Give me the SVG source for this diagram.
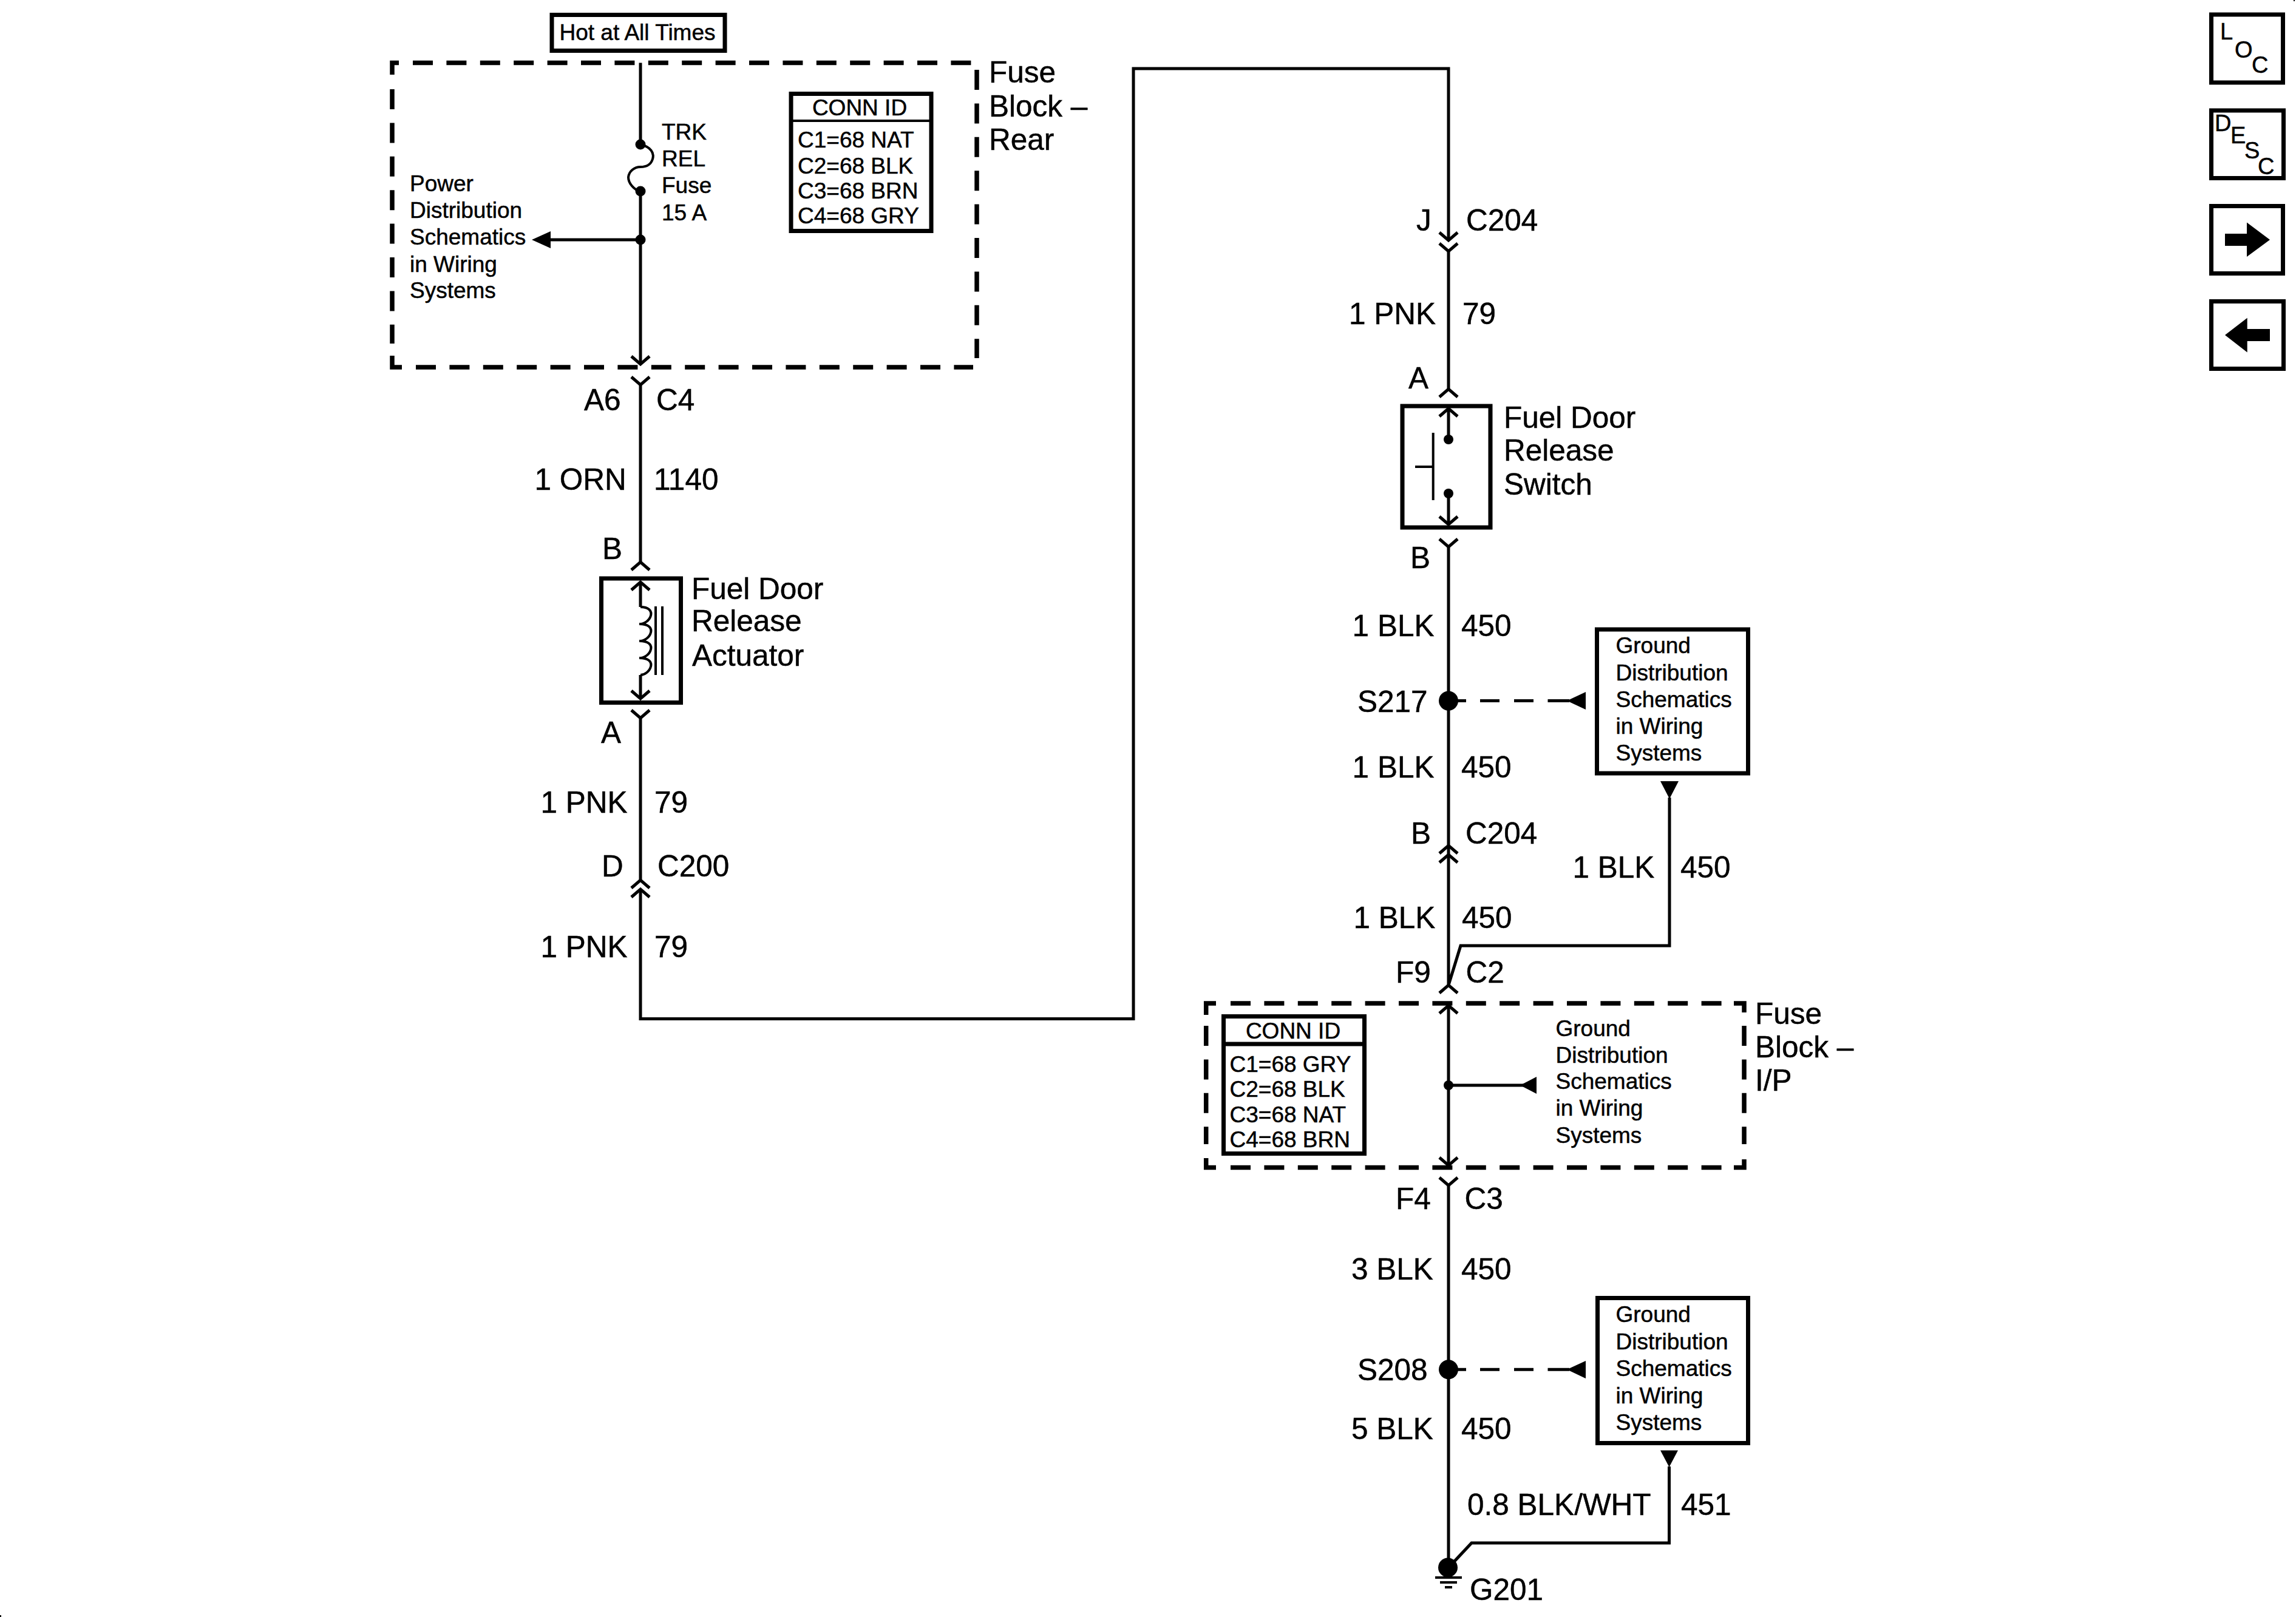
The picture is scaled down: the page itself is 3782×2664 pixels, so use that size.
<svg xmlns="http://www.w3.org/2000/svg" width="3782" height="2664" viewBox="0 0 3782 2664">
<style>
text{font-family:"Liberation Sans",Arial,Helvetica,sans-serif;fill:#000;stroke:#000;stroke-width:.5}
.l{font-size:49.500px}
.s{font-size:37px}
.m{text-anchor:middle}
.ic{font-size:38px}
.w{fill:none;stroke:#000;stroke-width:5}
.t{fill:none;stroke:#000;stroke-width:4}
.bx{fill:#fff;stroke:#000;stroke-width:7}
.d{fill:none;stroke:#000;stroke-width:7.5}
.dd{fill:none;stroke:#000;stroke-width:7.5;stroke-dasharray:33 22.4}
.f{fill:#000}
</style>
<defs>
<path id="up" class="w" d="M-15 13L0 0L15 13"/>
<path id="dn" class="w" d="M-15 -13L0 0L15 -13"/>
</defs>
<rect width="3782" height="2664" fill="#fff"/>
<rect class="f" x="3778" y="0" width="2" height="2"/>
<rect class="f" x="0" y="2661" width="2" height="3"/>

<g id="fuse-block-rear">
<path class="d" d="M646 123V103.500H657M646 586V605H662"/>
<path class="dd" d="M680 103.500H1600"/>
<path class="dd" d="M685 605H1603"/>
<path class="dd" d="M646 147V566"/>
<path class="dd" d="M1609 115V590"/>
<text class="l" x="1629" y="136">Fuse</text>
<text class="l" x="1629" y="192">Block –</text>
<text class="l" x="1629" y="247">Rear</text>
</g>
<g id="fuse-block-ip">
<path class="d" d="M1986.700 1672V1653H2003M1986.700 1908V1923.500H2003M2856 1653H2873V1668M2856 1923.500H2873V1910"/>
<path class="dd" d="M2027 1653H2850"/>
<path class="dd" d="M2027 1923.500H2850"/>
<path class="dd" d="M1986.700 1690V1885"/>
<path class="dd" d="M2873 1690V1885"/>
<text class="l" x="2891" y="1687">Fuse</text>
<text class="l" x="2891" y="1742">Block –</text>
<text class="l" x="2891" y="1797">I/P</text>
</g>

<g id="connectors">
<path class="w" d="M1055 103.500V238M1055 315V600M1055 633V926M1055 959V1000M1055 1112V1151M1055 1182V1450M1055 1465V1678.600H1867V113H2386V396M2386 413.500V641M2386 673V724M2386 813V864M2386 901V1407M2386 1408V1623L2406 1558H2750V1314M2386 1656.500V1920M2386 1953V2582"/>
<path class="w" d="M2395 2573L2424 2542H2749.500V2416"/>
<path class="w" d="M1055 395H900"/>
<path class="w" d="M2386 1788H2510"/>
<path class="w" d="M2401 1154.600H2415M2438 1154.600H2470M2494 1154.600H2526M2549.500 1154.600H2585"/>
<path class="w" d="M2401 2256.300H2415M2438 2256.300H2470M2494 2256.300H2526M2549.500 2256.300H2585"/>
<path class="f" d="M876 395L907 381V409Z"/>
<path class="f" d="M2504 1788L2531 1774V1802Z"/>
<path class="f" d="M2581 1154.600L2612 1140V1169Z"/>
<path class="f" d="M2581 2256.300L2612 2242V2271Z"/>
<path class="f" d="M2735 1287H2765L2750 1316Z"/>
<path class="f" d="M2735 2389.500H2764L2749.500 2417Z"/>
<use href="#dn" x="1055" y="600"/>
<use href="#dn" x="1055" y="634"/>
<use href="#up" x="1055" y="926"/>
<use href="#up" x="1055" y="959"/>
<use href="#dn" x="1055" y="1151"/>
<use href="#dn" x="1055" y="1183"/>
<use href="#up" x="1055" y="1450"/>
<use href="#up" x="1055" y="1465"/>
<use href="#dn" x="2386" y="396"/>
<use href="#dn" x="2386" y="414"/>
<use href="#up" x="2386" y="641"/>
<use href="#up" x="2386" y="673"/>
<use href="#dn" x="2386" y="864"/>
<use href="#dn" x="2386" y="901"/>
<use href="#up" x="2386" y="1393"/>
<use href="#up" x="2386" y="1408"/>
<use href="#up" x="2386" y="1623"/>
<use href="#up" x="2386" y="1656.500"/>
<use href="#dn" x="2386" y="1920"/>
<use href="#dn" x="2386" y="1953"/>
</g>

<g id="hot-at-all-times">
<rect class="bx" x="909" y="24.500" width="285" height="59"/>
<text class="s m" x="1050" y="66">Hot at All Times</text>
</g>
<g id="fuse-trk-rel">
<path class="t" d="M1055 238C1072 242 1078 252 1075 262C1072 272 1063 275 1055 275C1045 275 1036 282 1035 292C1035 302 1044 312 1055 316"/>
<circle class="f" cx="1055" cy="238" r="8.500"/>
<circle class="f" cx="1055" cy="315" r="8.500"/>
<circle class="f" cx="1055" cy="395" r="8.500"/>
<text class="s" x="1090" y="230">TRK</text>
<text class="s" x="1090" y="274">REL</text>
<text class="s" x="1090" y="318">Fuse</text>
<text class="s" x="1090" y="362.500">15 A</text>
</g>
<g id="power-distribution-ref">
<text class="s" x="675" y="315">Power</text>
<text class="s" x="675" y="359">Distribution</text>
<text class="s" x="675" y="403">Schematics</text>
<text class="s" x="675" y="448">in Wiring</text>
<text class="s" x="675" y="491">Systems</text>
</g>
<g id="conn-id-rear">
<rect class="bx" x="1303" y="154.500" width="231" height="226"/>
<path class="t" d="M1303 199H1534"/>
<text class="s m" x="1416" y="190">CONN ID</text>
<text class="s" x="1314" y="243">C1=68 NAT</text>
<text class="s" x="1314" y="286">C2=68 BLK</text>
<text class="s" x="1314" y="327">C3=68 BRN</text>
<text class="s" x="1314" y="368">C4=68 GRY</text>
</g>
<g id="fuel-door-release-actuator">
<rect x="990.500" y="953" width="131" height="204.500" fill="none" stroke="#000" stroke-width="7"/>
<path class="t" d="M1055 1000C1068 1000 1074 1006 1072 1014C1070 1022 1062 1028 1053 1028C1068 1028 1074 1034 1072 1042C1070 1050 1062 1056 1053 1056C1068 1056 1074 1062 1072 1070C1070 1078 1062 1084 1053 1084C1068 1084 1074 1090 1072 1098C1070 1106 1062 1112 1055 1112"/>
<path class="t" d="M1080 999V1112M1091 999V1112"/>
<text class="l" x="1139" y="987">Fuel Door</text>
<text class="l" x="1139" y="1040">Release</text>
<text class="l" x="1140" y="1097">Actuator</text>
</g>
<g id="fuel-door-release-switch">
<rect x="2310" y="669" width="145" height="200" fill="none" stroke="#000" stroke-width="7"/>
<circle class="f" cx="2386" cy="724" r="8"/>
<circle class="f" cx="2386" cy="813" r="8"/>
<path class="t" d="M2360.700 713V824M2331 769H2360"/>
<text class="l" x="2477" y="705">Fuel Door</text>
<text class="l" x="2477" y="759">Release</text>
<text class="l" x="2477" y="815">Switch</text>
</g>
<g id="ground-distribution-1">
<rect class="bx" x="2630.500" y="1037" width="249" height="237"/>
<text class="s" x="2661.500" y="1076">Ground</text>
<text class="s" x="2661.500" y="1121">Distribution</text>
<text class="s" x="2661.500" y="1165">Schematics</text>
<text class="s" x="2661.500" y="1209">in Wiring</text>
<text class="s" x="2661.500" y="1253">Systems</text>
</g>
<g id="ground-distribution-2">
<rect class="bx" x="2631.500" y="2138.500" width="248" height="239"/>
<text class="s" x="2661.500" y="2178">Ground</text>
<text class="s" x="2661.500" y="2223">Distribution</text>
<text class="s" x="2661.500" y="2267">Schematics</text>
<text class="s" x="2661.500" y="2311.500">in Wiring</text>
<text class="s" x="2661.500" y="2356">Systems</text>
</g>
<g id="ground-distribution-ip">
<circle class="f" cx="2386" cy="1788" r="8"/>
<text class="s" x="2562.500" y="1707">Ground</text>
<text class="s" x="2562.500" y="1751">Distribution</text>
<text class="s" x="2562.500" y="1794">Schematics</text>
<text class="s" x="2562.500" y="1838">in Wiring</text>
<text class="s" x="2562.500" y="1883">Systems</text>
</g>
<g id="conn-id-ip">
<rect class="bx" x="2015.500" y="1674.500" width="232" height="226"/>
<path class="bx" d="M2015.500 1720H2247.500"/>
<text class="s m" x="2130" y="1710.500">CONN ID</text>
<text class="s" x="2025.500" y="1765.500">C1=68 GRY</text>
<text class="s" x="2025.500" y="1807">C2=68 BLK</text>
<text class="s" x="2025.500" y="1849">C3=68 NAT</text>
<text class="s" x="2025.500" y="1889.500">C4=68 BRN</text>
</g>
<g id="s217">
<circle class="f" cx="2386" cy="1154.600" r="16"/>
<text class="l" x="2236" y="1172.500">S217</text>
</g>
<g id="s208">
<circle class="f" cx="2386" cy="2256.300" r="16"/>
<text class="l" x="2236" y="2274">S208</text>
</g>
<g id="g201">
<circle class="f" cx="2385" cy="2582.500" r="16"/>
<path class="t" d="M2364 2599H2408M2372 2607H2400M2380 2615H2392"/>
<text class="l" x="2421" y="2636">G201</text>
</g>
<g id="wire-labels">
<text class="l" x="962" y="676">A6</text>
<text class="l" x="1081" y="676">C4</text>
<text class="l" x="880.500" y="807">1 ORN</text>
<text class="l" x="1077" y="807">1140</text>
<text class="l" x="992" y="921">B</text>
<text class="l" x="990" y="1224">A</text>
<text class="l" x="890.500" y="1339">1 PNK</text>
<text class="l" x="1078" y="1339">79</text>
<text class="l" x="991" y="1443.500">D</text>
<text class="l" x="1083" y="1443.500">C200</text>
<text class="l" x="890.500" y="1577">1 PNK</text>
<text class="l" x="1078" y="1577">79</text>
<text class="l" x="2333" y="380">J</text>
<text class="l" x="2415" y="380">C204</text>
<text class="l" x="2222" y="534">1 PNK</text>
<text class="l" x="2409" y="534">79</text>
<text class="l" x="2320" y="640">A</text>
<text class="l" x="2323" y="936">B</text>
<text class="l" x="2227.600" y="1047.500">1 BLK</text>
<text class="l" x="2407" y="1047.500">450</text>
<text class="l" x="2227.600" y="1281">1 BLK</text>
<text class="l" x="2407" y="1281">450</text>
<text class="l" x="2324" y="1389.500">B</text>
<text class="l" x="2414" y="1389.500">C204</text>
<text class="l" x="2590.400" y="1446">1 BLK</text>
<text class="l" x="2768" y="1446">450</text>
<text class="l" x="2229.500" y="1528.700">1 BLK</text>
<text class="l" x="2408" y="1528.700">450</text>
<text class="l" x="2299" y="1619">F9</text>
<text class="l" x="2414.600" y="1619">C2</text>
<text class="l" x="2299" y="1992">F4</text>
<text class="l" x="2412.400" y="1992">C3</text>
<text class="l" x="2226" y="2107.700">3 BLK</text>
<text class="l" x="2407" y="2107.700">450</text>
<text class="l" x="2226" y="2371">5 BLK</text>
<text class="l" x="2407" y="2371">450</text>
<text class="l" x="2417" y="2496">0.8 BLK/WHT</text>
<text class="l" x="2769" y="2496">451</text>
</g>
<g id="btn-loc">
<rect class="bx" x="3642.500" y="24" width="118" height="112"/>
<text class="ic" x="3657" y="65">L</text>
<text class="ic" x="3681" y="95">O</text>
<text class="ic" x="3709" y="120">C</text>
</g>
<g id="btn-desc">
<rect class="bx" x="3642.500" y="182" width="119" height="111.500"/>
<text class="ic" x="3648" y="216">D</text>
<text class="ic" x="3674" y="236">E</text>
<text class="ic" x="3697" y="261">S</text>
<text class="ic" x="3719" y="287">C</text>
</g>
<g id="btn-next">
<rect class="bx" x="3642.500" y="339.500" width="118" height="111"/>
<path class="f" d="M3665 385H3701V366.500L3739 395L3701 423V405H3665Z"/>
</g>
<g id="btn-prev">
<rect class="bx" x="3642.500" y="496.500" width="119" height="111"/>
<path class="f" d="M3739 542H3701.700V523.700L3665 552L3701.700 580.400V562H3739Z"/>
</g>
</svg>
